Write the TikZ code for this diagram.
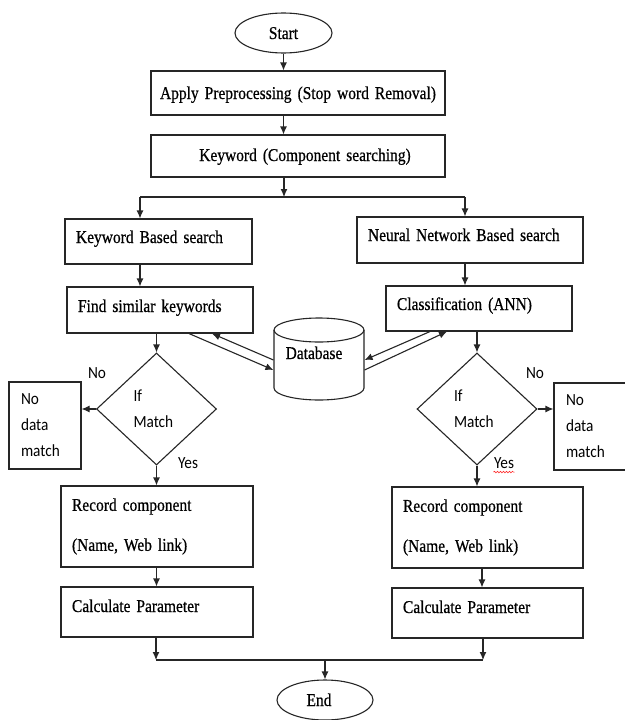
\documentclass[tikz,border=0pt]{standalone}
\usepackage{fontspec}
\setmainfont{Liberation Serif}[FakeStretch=0.86, FakeBold=0.6]
\newfontfamily\lblfont{Carlito}[FakeStretch=0.9]
\usetikzlibrary{shapes.geometric, arrows.meta, decorations.pathmorphing}
\newcommand\myserif{\fontsize{18}{21}\selectfont\spaceskip2.6pt plus 1pt minus 0.5pt\relax}
\newcommand\myserifwide{\fontsize{18}{40}\selectfont\spaceskip2.6pt plus 1pt minus 0.5pt\relax}
\newcommand\mysans{\lblfont\fontsize{17}{26}\selectfont}
\newcommand\mysanslbl{\lblfont\fontsize{17}{20}\selectfont}
\begin{document}
\begin{tikzpicture}[x=1pt, y=-1pt,
  line width=1.1pt, draw=black!85,
  arr/.style={-{Latex[length=8pt,width=7pt]}},
  serif/.style={font=\myserif},
  sbox/.style={draw, rectangle, inner xsep=11pt, inner ysep=0pt, align=left, serif, text height=12pt},
  mbox/.style={draw, rectangle, inner xsep=11pt, inner ysep=0pt, align=left, font=\myserifwide},
  ellip/.style={draw, ellipse, inner sep=0pt, serif, text height=12pt, text depth=0pt},
  nbox/.style={draw, rectangle, inner xsep=12pt, inner ysep=0pt, align=left, font=\mysans},
  dia/.style={draw, diamond, minimum width=120pt, minimum height=112pt, inner sep=0pt, align=left, text width=46pt, font=\mysans},
  lbl/.style={inner sep=0pt, font=\mysanslbl}
]
\fill[white] (0,0) rectangle (624,720);
\useasboundingbox (0,0) rectangle (624,720);

% top
\node[ellip, minimum width=97pt, minimum height=40pt] (start) at (283.5,33) {Start};
\node[sbox, inner xsep=2pt, minimum width=294pt, text width=290pt, minimum height=44pt, align=center, text depth=0pt] (apply) at (298,93) {Apply Preprocessing (Stop word Removal)};
\node[sbox, inner xsep=2pt, minimum width=294pt, text width=290pt, minimum height=42pt, align=center, text depth=2pt] (kw) at (298,156) {\hspace*{14pt}Keyword (Component searching)};

% branches
\node[sbox, minimum width=187pt, text width=165pt, minimum height=45pt, text depth=9pt] (kbs) at (158.5,241.5) {Keyword Based search};
\node[sbox, minimum width=226pt, text width=204pt, minimum height=46pt, text depth=10pt] (neural) at (470,240) {Neural Network Based search};
\node[sbox, minimum width=186pt, text width=164pt, minimum height=46pt, text depth=8pt] (find) at (160,310) {Find similar keywords};
\node[sbox, minimum width=186pt, text width=164pt, minimum height=45pt, text depth=9pt] (class) at (479,308.5) {Classification (ANN)};

% database
\draw (319,330) ellipse [x radius=45pt, y radius=12pt];
\draw (274,330) -- (274,388) arc [start angle=180, end angle=360, x radius=45pt, y radius=12pt] -- (364,330);
\node[inner sep=0pt, minimum width=90pt, minimum height=82pt, serif, text height=12pt, text depth=12pt] (db) at (319,359) {\hspace*{-10pt}Database};

% decisions
\node[dia] (dL) at (156.5,409) {If\\Match};
\node[dia] (dR) at (477,409) {If\\Match};
\node[nbox, minimum width=72pt, text width=48pt, minimum height=87pt] (ndL) at (45,425.5) {No\\data\\match};
\node[nbox, minimum width=72pt, text width=48pt, minimum height=87pt] (ndR) at (590,426.5) {No\\data\\match};
\node[lbl] (noL) at (97,373) {No};
\node[lbl] (noR) at (535,373) {No};
\node[lbl] (yesL) at (188,463) {Yes};
\node[lbl] (yesR) at (504,463) {Yes};
\draw[red!85, line width=0.6pt, decorate, decoration={snake, amplitude=0.8pt, segment length=3pt}] ([yshift=-3pt]yesR.south west) -- ([yshift=-3pt]yesR.south east);

% lower boxes
\node[mbox, minimum width=192pt, text width=170pt, minimum height=81pt] (recL) at (157,526.5) {Record component\\(Name, Web link)};
\node[mbox, minimum width=191pt, text width=169pt, minimum height=81pt] (recR) at (487.5,527.5) {Record component\\(Name, Web link)};
\node[sbox, minimum width=192pt, text width=170pt, minimum height=50pt, text depth=12pt] (calcL) at (157,612) {Calculate Parameter};
\node[sbox, minimum width=191pt, text width=169pt, minimum height=50pt, text depth=12pt] (calcR) at (487.5,613) {Calculate Parameter};

\node[ellip, minimum width=96pt, minimum height=40pt] (stop) at (325,700) {\hspace*{-12pt}End};

% connectors
\coordinate (split) at (284,197);
\coordinate (splitL) at (140,197);
\coordinate (splitR) at (465,197);
\coordinate (mL) at (156,660);
\coordinate (mR) at (483,660);

\draw[arr] (start.south) -- (start.south |- apply.north);
\draw[arr] (apply.south -| start) -- (kw.north -| start);
\draw[arr] (kw.south -| split) -- (split);
\draw (splitL) -- (splitR);
\draw[arr] (splitL) -- (splitL |- kbs.north);
\draw[arr] (splitR) -- (splitR |- neural.north);
\draw[arr] (kbs.south -| splitL) -- (find.north -| splitL);
\draw[arr] (neural.south -| splitR) -- (class.north -| splitR);
\draw[arr] (find.south -| dL) -- (dL.north);
\draw[arr] (class.south -| dR) -- (dR.north);

\draw[arr] ([yshift=-1pt]db.west) -- ([xshift=52pt]find.south);
\draw[arr] ([xshift=29pt]find.south) -- ([yshift=-11pt]db.west);
\draw[arr] ([xshift=-49pt]class.south) -- ([yshift=-1pt]db.east);
\draw[arr] ([yshift=-11pt]db.east) -- ([xshift=-32pt]class.south);

\draw[arr] (dL.west) -- (dL.west -| ndL.east);
\draw[arr] (dR.east) -- (dR.east -| ndR.west);
\draw[arr] (dL.south) -- (dL.south |- recL.north);
\draw[arr] (dR.south) -- (dR.south |- recR.north);
\draw[arr] (recL.south -| dL) -- (calcL.north -| dL);
\draw[arr] ([xshift=-5.5pt]recR.south) -- ([xshift=-5.5pt]calcR.north);
\draw[arr] (calcL.south -| mL) -- (mL);
\draw[arr] (calcR.south -| mR) -- (mR);
\draw (mL) -- (mR);
\draw[arr] (stop.north |- mL) -- (stop.north);
\end{tikzpicture}
\end{document}
